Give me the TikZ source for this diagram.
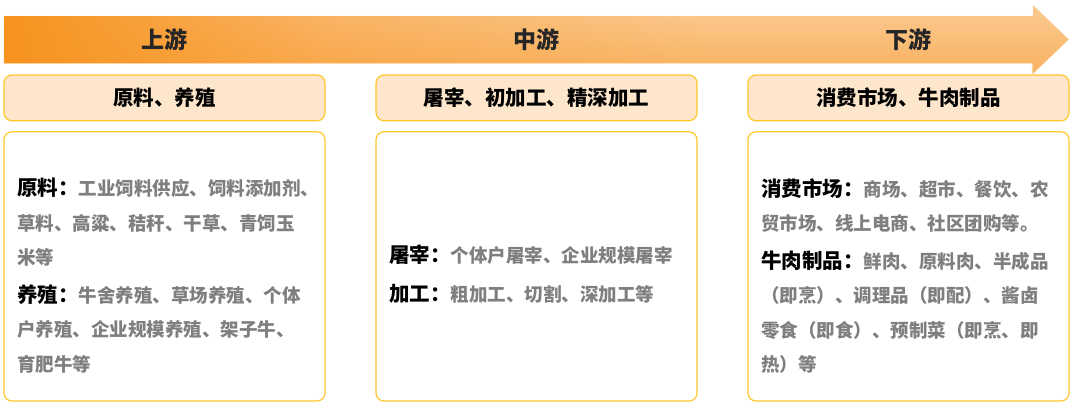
\documentclass[tikz,border=0pt]{standalone}
\usepackage{fontspec}
\newfontfamily\cjk{Noto Sans CJK SC}
\usetikzlibrary{positioning}
\usetikzlibrary{fadings}

\definecolor{arrowdark}{RGB}{247,147,30}
\definecolor{arrowmid}{RGB}{250,182,105}
\definecolor{arrowlight}{RGB}{251,203,148}
\definecolor{headfill}{RGB}{253,230,204}
\definecolor{boxline}{RGB}{255,199,40}
\definecolor{itemgray}{RGB}{127,127,127}
\definecolor{titlegray}{RGB}{38,38,38}

\pgfdeclarehorizontalshading{chainshade}{100bp}{color(0bp)=(arrowdark); color(25bp)=(arrowdark); color(40bp)=(arrowmid); color(58bp)=(arrowlight); color(75bp)=(arrowlight); color(100bp)=(arrowlight)}

\newcommand\itemlabel[1]{{\color{black}\fontsize{20.5}{34.5}\selectfont #1}}

\begin{document}
\begin{tikzpicture}[x=1pt, y=-1pt,
    heading/.style={font=\cjk\bfseries\fontsize{23}{26}\selectfont, text=titlegray, inner sep=0pt},
    stagebox/.style={draw=boxline, line width=1.2pt, fill=headfill, rounded corners=8pt,
        minimum width=321pt, minimum height=45.7pt, inner sep=0pt,
        font=\cjk\bfseries\fontsize{20.5}{24}\selectfont, text=black},
    detailbox/.style={draw=boxline, line width=1.2pt, fill=white, rounded corners=8pt,
        minimum width=321pt, minimum height=269.3pt, inner sep=0pt},
    itemtext/.style={anchor=north west, align=left, inner sep=0pt, text=itemgray,
        font=\cjk\bfseries\fontsize{18.5}{34.5}\selectfont}]

    \useasboundingbox (0,0) rectangle (1078,410);

    % chain arrow
    \shade[shading=chainshade] (4,16) -- (1033,16) -- (1033,5) -- (1069,39.5) -- (1033,74) -- (1033,63.3) -- (4,63.3) -- cycle;
    \fill[arrowdark, opacity=0.45, path fading=north] (4,16) -- (1033,16) -- (1033,5) -- (1069,39.5) -- (1033,74) -- (1033,63.3) -- (4,63.3) -- cycle;

    \node[heading] (up) at (164.5,40) {上游};
    \node[heading] (mid) at (536.5,40) {中游};
    \node[heading] (down) at (908.5,40) {下游};

    % stage headers
    \node[stagebox] (upstage) at (164.5,97.9) {原料、养殖};
    \node[stagebox] (midstage) at (536.5,97.9) {屠宰、初加工、精深加工};
    \node[stagebox] (downstage) at (908.5,97.9) {消费市场、牛肉制品};

    % detail boxes
    \node[detailbox] (updetail) at (164.5,266.4) {};
    \node[detailbox] (middetail) at (536.5,266.4) {};
    \node[detailbox] (downdetail) at (908.5,266.4) {};

    \node[itemtext] (uptext) at (17,178) {\itemlabel{原料：}工业饲料供应、饲料添加剂、\\草料、高粱、秸秆、干草、青饲玉\\米等\\[3pt]
        \itemlabel{养殖：}牛舍养殖、草场养殖、个体\\户养殖、企业规模养殖、架子牛、\\育肥牛等};
    \node[itemtext] (midtext) at (389,244.5) {\itemlabel{屠宰：}个体户屠宰、企业规模屠宰\\[4pt]
        \itemlabel{加工：}粗加工、切割、深加工等};
    \node[itemtext] (downtext) at (761,178) {\itemlabel{消费市场：}商场、超市、餐饮、农\\贸市场、线上电商、社区团购等。\\[3pt]
        \itemlabel{牛肉制品：}鲜肉、原料肉、半成品\\（即烹）、调理品（即配）、酱卤\\零食（即食）、预制菜（即烹、即\\热）等};

\end{tikzpicture}
\end{document}
